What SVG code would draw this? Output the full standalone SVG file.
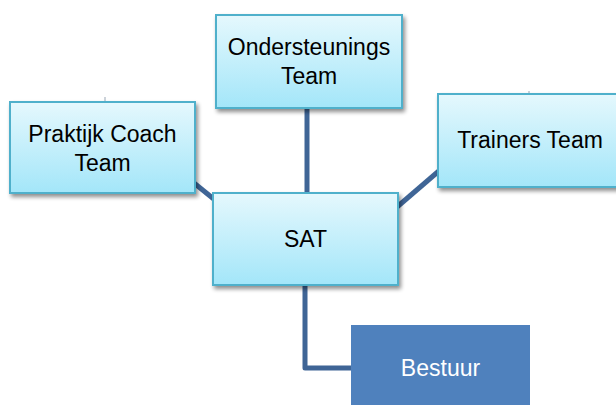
<svg xmlns="http://www.w3.org/2000/svg" width="616" height="405" viewBox="0 0 616 405">
<defs>
<linearGradient id="g" x1="0" y1="0" x2="0" y2="1">
<stop offset="0" stop-color="#e5f8fd"/>
<stop offset="1" stop-color="#a3e6f9"/>
</linearGradient>
<filter id="sh" x="-10%" y="-10%" width="125%" height="130%">
<feGaussianBlur in="SourceAlpha" stdDeviation="2"/>
<feOffset dx="2" dy="3" result="b"/>
<feComponentTransfer><feFuncA type="linear" slope="0.45"/></feComponentTransfer>
<feMerge><feMergeNode/><feMergeNode in="SourceGraphic"/></feMerge>
</filter>
<style>
.box{fill:url(#g);stroke:#4fb0cb;stroke-width:2;filter:url(#sh)}
.t{font-family:"Liberation Sans",Arial,sans-serif;font-size:23px;fill:#000;text-anchor:middle}
.w{fill:#fff}
.c{fill:none;stroke:#3f6596;stroke-width:5;stroke-linejoin:round}
.tick{stroke:#9aa7b5;stroke-width:1}
</style>
</defs>
<rect width="616" height="405" fill="#fff"/>
<g id="connectors">
<line class="c" x1="307" y1="106" x2="307" y2="195"/>
<line class="c" x1="194" y1="183" x2="215" y2="200"/>
<line class="c" x1="397" y1="207" x2="440" y2="170"/>
<path class="c" d="M305 283 V368 H352"/>
<line class="tick" x1="105" y1="97" x2="105" y2="102"/>
<line class="tick" x1="529" y1="91" x2="529" y2="95"/>
</g>
<g id="praktijk">
<rect class="box" x="10" y="102" width="185" height="91"/>
<text class="t" x="102.5" y="142">Praktijk Coach</text>
<text class="t" x="102.5" y="171">Team</text>
</g>
<g id="ondersteunings">
<rect class="box" x="216" y="15" width="186" height="93"/>
<text class="t" x="309" y="55">Ondersteunings</text>
<text class="t" x="309" y="84">Team</text>
</g>
<g id="trainers">
<rect class="box" x="438" y="94" width="184" height="93"/>
<text class="t" x="530" y="148">Trainers Team</text>
</g>
<g id="sat">
<rect class="box" x="213" y="193" width="185" height="92"/>
<text class="t" x="305.5" y="247">SAT</text>
</g>
<g id="bestuur">
<rect x="351" y="325" width="179" height="85" fill="#4f81bd"/>
<text class="t w" x="440.5" y="376">Bestuur</text>
</g>
</svg>
